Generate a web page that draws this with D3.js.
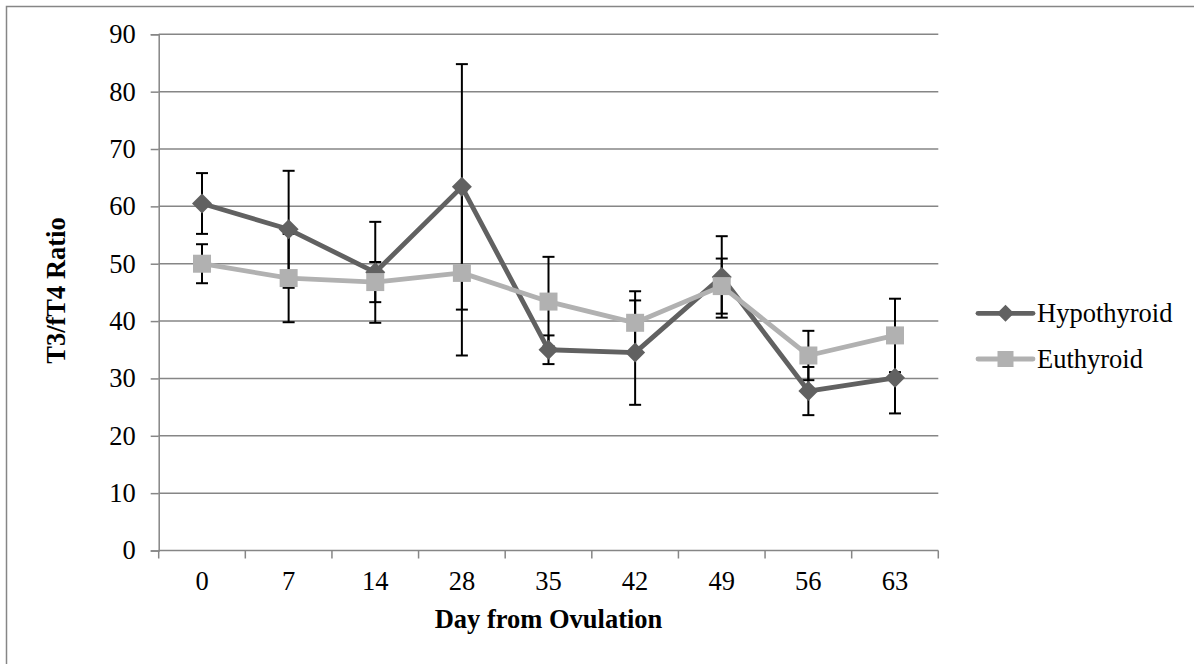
<!DOCTYPE html>
<html>
<head>
<meta charset="utf-8">
<script src="https://cdn.jsdelivr.net/npm/d3@7"></script>
<style>
  html, body { margin: 0; padding: 0; background: #fff; }
  svg { display: block; }
  text { font-family: "Liberation Serif", "Times New Roman", serif; fill: #000; }
</style>
</head>
<body>
<svg id="chart" width="1194" height="664"></svg>
<script>
// Day from ovulation (categories)
const days = ["0", "7", "14", "28", "35", "42", "49", "56", "63"];
// T3/fT4 ratio means and error amounts per group
const hypoMean = [60.5, 56.0, 48.5, 63.4, 35.0, 34.5, 47.7, 27.8, 30.1];
const hypoErr  = [5.3, 10.2, 8.8, 21.4, 2.5, 9.1, 7.1, 4.2, 6.2];
const euthMean = [50.0, 47.5, 46.8, 48.4, 43.4, 39.7, 46.1, 34.0, 37.5];
const euthErr  = [3.4, 7.7, 3.5, 14.4, 7.8, 5.5, 4.8, 4.3, 6.4];
const yTicks = [0, 10, 20, 30, 40, 50, 60, 70, 80, 90];

const svg = d3.select("#chart");
const fontSize = "26.5px";

// chart frame (only top and left edges fall inside the canvas)
svg.append("rect")
  .attr("x", 6.5).attr("y", 6.5)
  .attr("width", 1200).attr("height", 700)
  .attr("fill", "#fff").attr("stroke", "#868686").attr("stroke-width", 1.5);

const plotL = 158.7, plotR = 938.3, plotT = 34.3, plotB = 550.5;

const x = d3.scaleBand().domain(days).range([plotL, plotR]).padding(0);
const y = d3.scaleLinear().domain([0, 90]).range([plotB, plotT]);
const cx = d => x(d) + x.bandwidth() / 2;

const gridColor = "#868686";

// horizontal gridlines
svg.append("g").selectAll("line")
  .data(yTicks.filter(v => v > 0))
  .join("line")
  .attr("x1", plotL).attr("x2", plotR)
  .attr("y1", d => y(d)).attr("y2", d => y(d))
  .attr("stroke", gridColor).attr("stroke-width", 1.5);

// y axis
const yAxis = svg.append("g")
  .attr("transform", `translate(${plotL},0)`)
  .call(d3.axisLeft(y).tickValues(yTicks).tickSize(8).tickPadding(15));
yAxis.select(".domain").attr("stroke", gridColor).attr("stroke-width", 1.5);
yAxis.selectAll(".tick line").attr("stroke", gridColor).attr("stroke-width", 1.5);
yAxis.selectAll(".tick text")
  .style("font-family", '"Liberation Serif", "Times New Roman", serif')
  .style("font-size", fontSize).attr("fill", "#000");

// x axis with ticks on category boundaries
const xAxis = svg.append("g").attr("transform", `translate(0,${plotB})`);
xAxis.append("line")
  .attr("x1", plotL).attr("x2", plotR).attr("y1", 0).attr("y2", 0)
  .attr("stroke", gridColor).attr("stroke-width", 1.5);
const boundaries = days.map(d => x(d)).concat([plotR]);
xAxis.selectAll("line.tk").data(boundaries).join("line")
  .attr("class", "tk")
  .attr("x1", d => d).attr("x2", d => d).attr("y1", 0).attr("y2", 8)
  .attr("stroke", gridColor).attr("stroke-width", 1.5);
xAxis.selectAll("text").data(days).join("text")
  .attr("x", d => cx(d)).attr("y", 39.5)
  .attr("text-anchor", "middle")
  .style("font-size", fontSize)
  .text(d => d);

// axis titles
svg.append("text")
  .attr("x", (plotL + plotR) / 2).attr("y", 628)
  .attr("text-anchor", "middle")
  .style("font-size", fontSize).style("font-weight", "bold")
  .text("Day from Ovulation");
svg.append("text")
  .attr("transform", "translate(65,290.5) rotate(-90)")
  .attr("text-anchor", "middle")
  .style("font-size", fontSize).style("font-weight", "bold")
  .text("T3/fT4 Ratio");

const series = [
  { name: "Hypothyroid", mean: hypoMean, err: hypoErr, color: "#616161", shape: "diamond" },
  { name: "Euthyroid", mean: euthMean, err: euthErr, color: "#b1b1b1", shape: "square" }
];

// error bars underneath everything else
const capHalf = 6;
series.forEach(s => {
  const g = svg.append("g").attr("stroke", "#000").attr("stroke-width", 2);
  days.forEach((d, i) => {
    const hi = y(s.mean[i] + s.err[i]), lo = y(s.mean[i] - s.err[i]);
    g.append("line").attr("x1", cx(d)).attr("x2", cx(d)).attr("y1", hi).attr("y2", lo);
    g.append("line").attr("x1", cx(d) - capHalf).attr("x2", cx(d) + capHalf).attr("y1", hi).attr("y2", hi);
    g.append("line").attr("x1", cx(d) - capHalf).attr("x2", cx(d) + capHalf).attr("y1", lo).attr("y2", lo);
  });
});

const line = d3.line().x(p => cx(p.d)).y(p => y(p.v));

function marker(sel, shape, size, color) {
  if (shape === "diamond") {
    const h = size / 2;
    sel.append("path")
      .attr("d", `M0,${-h}L${h},0L0,${h}L${-h},0Z`)
      .attr("fill", color);
  } else {
    sel.append("rect")
      .attr("x", -size / 2).attr("y", -size / 2)
      .attr("width", size).attr("height", size)
      .attr("fill", color);
  }
}

series.forEach(s => {
  const pts = days.map((d, i) => ({ d, v: s.mean[i] }));
  svg.append("path")
    .datum(pts)
    .attr("d", line)
    .attr("fill", "none")
    .attr("stroke", s.color)
    .attr("stroke-width", 4.8)
    .attr("stroke-linejoin", "round");
  svg.append("g").selectAll("g").data(pts).join("g")
    .attr("transform", p => `translate(${cx(p.d)},${y(p.v)})`)
    .each(function () {
      marker(d3.select(this), s.shape, s.shape === "diamond" ? 20 : 18, s.color);
    });
});

// legend
const legendY = [313.3, 359];
series.forEach((s, i) => {
  const g = svg.append("g").attr("transform", `translate(0,${legendY[i]})`);
  g.append("line").attr("x1", 978).attr("x2", 1033).attr("y1", 0).attr("y2", 0)
    .attr("stroke", s.color).attr("stroke-width", 4.8).attr("stroke-linecap", "round");
  const m = g.append("g").attr("transform", "translate(1005.5,0)");
  marker(m, s.shape, s.shape === "diamond" ? 17 : 16, s.color);
  g.append("text").attr("x", 1037).attr("y", 8.8)
    .style("font-size", fontSize)
    .text(s.name);
});
</script>
</body>
</html>
